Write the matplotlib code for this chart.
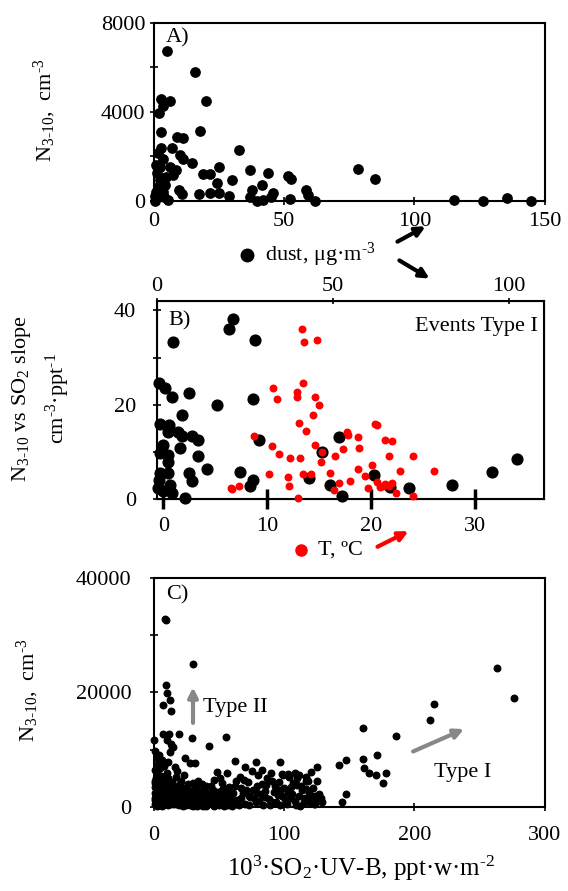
import matplotlib
matplotlib.use('Agg')
import matplotlib.pyplot as plt
from matplotlib.ticker import MultipleLocator

plt.rcParams['font.family'] = ['Liberation Serif', 'DejaVu Serif']
plt.rcParams['mathtext.fontset'] = 'custom'
plt.rcParams['mathtext.rm'] = 'Liberation Serif'
plt.rcParams['mathtext.it'] = 'Liberation Serif:italic'
plt.rcParams['font.size'] = 16

# Panel A: N3-10 vs dust
dust_a = [5.2, 15.7, 2.7, 6.1, 19.8, 3.3, 2.0, 2.7, 17.6, 8.7, 11.3, 32.7, 2.6, 7.0, 1.4,
          10.0, 11.0, 3.6, 14.8, 0.8, 6.1, 25.1, 8.4, 36.8, 78.4, 84.8, 43.8, 51.5, 52.8,
          18.7, 21.5, 7.4, 4.6, 24.4, 29.8, 9.7, 10.6, 17.4, 21.5, 25.1, 28.9, 37.5, 36.8,
          41.3, 45.8, 45.1, 39.4, 41.7, 52.2, 58.3, 59.2, 61.8, 115.1, 126.3, 135.7, 144.9,
          0.3, 0.8, 3.6, 1.7, 4.2, 2.3, 1.0, 5.5, 2.3, 0.5, 1.2, 4.0]
n_a = [6755, 5810, 4570, 4510, 4494, 4270, 3970, 3100, 3146, 2890, 2845, 2292, 2400, 2400, 2144,
       2067, 1874, 1874, 1721, 1618, 1541, 1541, 1393, 1393, 1438, 989, 1272, 1137, 989,
       1213, 1213, 1168, 1092, 824, 943, 494, 300, 300, 374, 344, 238, 494, 194,
       719, 344, 194, 15, 45, 105, 494, 270, 0, 45, 15, 150, 15,
       210, 420, 420, 643, 719, 943, 1243, 45, 1541, 0, 300, 200]

# Panel B: slope vs dust (black, top axis) and vs T (red, bottom axis)
dust_b = [21.6, 20.6, 4.6, 27.9, 0.7, 2.3, 4.4, 9.2, 27.3, 17.2, 7.0, 0.9, 3.5, 3.2, 6.1,
          7.0, 9.9, 11.8, 28.9, 51.7, 1.8, 6.6, 46.9, 0.9, 3.2, 11.8, 3.2, 14.3, 23.6, 0.9,
          3.2, 9.2, 9.9, 27.4, 26.5, 43.1, 61.6, 95.4, 102.3, 84.0, 71.6, 66.4, 49.3, 52.6,
          8.0, 0.4, 3.7, 4.2, 1.8, 0.7]
slope_b = [38.2, 36.0, 33.3, 33.7, 24.7, 23.5, 21.6, 22.5, 21.2, 19.9, 17.8, 16.0, 15.7, 14.3, 14.1,
           13.4, 13.3, 12.6, 12.6, 13.1, 11.5, 10.9, 9.9, 9.7, 9.4, 9.2, 7.8, 6.4, 5.8, 5.6,
           5.5, 5.5, 3.8, 4.0, 2.8, 4.4, 5.1, 5.8, 8.5, 3.0, 2.3, 2.6, 3.0, 0.7,
           0.1, 2.3, 3.0, 1.3, 1.6, 4.0]
temp_b = [13.3, 13.5, 14.8, 13.4, 10.6, 10.9, 12.9, 12.9, 14.6, 15.0, 14.4, 13.1, 13.7, 8.7,
          10.5, 11.1, 12.2, 13.2, 14.6, 15.2, 15.3, 16.5, 17.3, 17.7, 17.8, 18.7, 18.8, 18.7,
          20.4, 20.6, 21.3, 22.0, 21.7, 24.0, 20.1, 22.8, 26.0, 16.0, 10.2, 12.0, 13.4, 14.2,
          18.0, 19.4, 20.6, 21.3, 20.8, 16.9, 16.4, 12.1, 7.3, 6.6, 19.7, 22.4, 24.0, 13.0,
          22.0, 21.1, 21.7, 6.5]
slope_t = [36.0, 33.3, 33.8, 24.7, 23.5, 21.2, 22.6, 21.6, 21.6, 19.9, 17.9, 16.2, 14.5, 13.3,
           11.3, 9.6, 8.7, 8.7, 11.5, 7.9, 9.9, 9.1, 10.6, 14.3, 13.5, 13.1, 10.9, 6.4,
           15.9, 15.7, 12.6, 12.2, 9.1, 9.1, 7.2, 6.0, 6.0, 5.6, 5.3, 4.6, 5.3, 5.3,
           3.8, 4.9, 3.5, 3.1, 2.6, 3.3, 1.9, 2.8, 2.8, 2.1, 2.3, 1.3, 0.7, 0.1,
           3.3, 2.8, 2.8, 2.3]

# Panel C: N3-10 vs 10^3 SO2 UV-B
so2uv_c = [8.4, 9.4, 29.7, 9.2, 9.7, 7.1, 12.3, 13.0, 0, 7.1, 11.7, 19.4, 10.2, 28.9, 14.8,
           42.4, 55.3, 263.0, 276.5, 214.9, 212.3, 160.2, 185.5, 170.9, 160.2, 147.1, 142.0,
           161.2, 165.0, 170.4, 177.8, 175.5, 125.3, 120.5, 147.3, 144.0, 128.2, 123.6, 119.0,
           78.3, 96.7, 98.0, 103.1, 109.5, 116.7, 27.6, 31.5, 23.8, 55.8, 48.1,
           1, 2, 3, 4, 5, 6, 8, 10, 12, 14, 13, 11, 9, 7, 3, 1, 2, 4, 6, 8, 10, 12, 14, 1, 3,
           5, 7, 9, 11, 13, 15, 2, 4, 6, 15, 17, 16, 18, 19,
           20, 22, 24, 26, 28, 30, 32, 34, 36, 38, 40, 42, 44, 46, 48, 50, 52, 54, 56, 58, 60,
           21, 23, 25, 27, 29, 31, 33, 35, 37, 39, 41, 43, 45, 47, 49, 51, 53, 55, 57, 59,
           18, 19, 16, 17, 25, 33, 41, 49, 57,
           62, 64, 66, 68, 70, 72, 74, 76, 78, 80, 82, 84, 86, 88, 90, 92, 94, 96, 98, 100,
           102, 104, 106, 108, 110, 112, 114, 116, 118, 120, 122, 124, 126, 65, 71, 77, 83,
           89, 95, 101, 107, 113, 119, 69, 87, 99, 75, 85, 93,
           0.5, 0.5, 0.5, 0.5, 0.5, 0.5, 1.5, 1.5, 1.5, 1.5, 2.5, 2.5, 2.5, 2.5, 3.5, 3.5, 3.5,
           3.5, 4.5, 4.5, 4.5, 5.5, 5.5, 5.5, 5.5, 6.5, 6.5, 6.5, 7.5, 7.5, 7.5, 8.5, 8.5, 9.5,
           9.5, 9.5, 10.5, 10.5, 11.5, 12.5, 12.5, 13.5, 14.5, 14.5,
           16, 18, 20, 22, 24, 26, 28, 30, 32, 34, 36, 38, 40, 42, 44, 46, 48, 50, 52, 54, 56,
           58, 17, 19, 21, 23, 25, 27, 29, 31, 33, 35, 37, 39, 41, 43, 45, 47, 49, 51, 53, 55,
           57, 59, 22, 30, 38, 46, 54, 26, 34, 44, 52, 60,
           61, 63, 67, 73, 79, 81, 85, 91, 97, 103, 105, 109, 111, 115, 117, 121, 123, 127, 129,
           67, 73, 79, 91, 97, 105, 111, 117, 125, 63, 70, 83, 62, 108]
n_c = [32810, 32640, 24990, 21390, 19880, 17740, 18610, 16750, 11770, 12690, 12690, 12690, 11650,
       12050, 10490, 10660, 12230, 24290, 19010, 18030, 15250, 13790, 12400, 9040, 8350, 8170,
       7300, 6730, 5860, 5560, 5860, 4230, 7010, 6030, 2210, 820, 1620, 520, 1790,
       7880, 7880, 5740, 5740, 4990, 4520, 7700, 7700, 8470, 5960, 6140,
       9800, 8600, 7500, 9000, 6800, 8200, 7200, 6000, 9600, 10400, 11000, 7900, 5200, 4800,
       5600, 4200, 3000, 2200, 3600, 2600, 1800, 3000, 4400, 1200, 600, 1500, 300, 900, 400,
       1300, 2000, 200, 800, 100, 600, 5200, 7000, 6200, 3800,
       2400, 1200, 3300, 600, 1900, 4200, 900, 2700, 300, 1500, 3600, 700, 2200, 4800, 1100,
       400, 2900, 1700, 800, 3500, 200, 4600, 5600, 300, 2800, 1000, 3100, 200, 1800, 4000,
       600, 2500, 1300, 3000, 300, 1900, 5000, 900, 2400, 400, 1300, 900, 1700, 3200, 500,
       1500, 1100, 900, 2700, 2000,
       3600, 1200, 5200, 2400, 600, 4300, 1800, 3000, 900, 5600, 2200, 400, 3800, 1400, 6000,
       2700, 800, 4400, 1900, 3300, 500, 5200, 2300, 1100, 3900, 200, 2900, 1500, 4600, 700,
       3400, 2000, 1200, 300, 2900, 1500, 4000, 300, 2100, 1400, 4200, 3600, 2600, 4800, 5000,
       5600, 6200, 2800, 3600,
       500, 1500, 2500, 3500, 4500, 6500, 700, 1900, 3300, 5100, 1100, 2600, 4000, 6100, 300,
       1700, 3100, 4700, 900, 2500, 3900, 600, 2000, 3200, 5400, 1300, 2800, 4300, 700, 2100,
       3400, 1100, 4000, 500, 2300, 3200, 1400, 5000, 2600, 600, 1800, 3600, 1000, 2800,
       1400, 2800, 600, 3400, 1000, 2200, 300, 1500, 2800, 700, 1900, 3000, 200, 1600, 900,
       2500, 500, 1400, 700, 3300, 1500, 500, 2300, 400, 1600, 800, 2600, 1300, 400, 2000,
       3800, 500, 1200, 2200, 400, 1800, 600, 1500, 800, 2100, 300, 1100, 2800, 600, 100,
       100, 100, 100, 100, 4000, 4600, 3700, 4200, 1200,
       2500, 600, 1500, 300, 2500, 1100, 1800, 900, 300, 2600, 1600, 400, 2000, 800, 3200,
       1700, 500, 2300, 900, 3400, 2000, 3600, 4500, 2900, 3500, 5500, 5200, 4500, 4500,
       7000, 6500, 8000, 6000]

fig = plt.figure(figsize=(5.68, 8.91), dpi=100)

def style(ax):
    for s in ax.spines.values():
        s.set_linewidth(1.5)
    ax.tick_params(which='both', direction='inout', width=1.2)
    ax.tick_params(which='major', length=6)
    ax.tick_params(which='minor', length=6)

# ---- A
axA = fig.add_axes([0.271, 0.7744, 0.688, 0.2])
axA.scatter(dust_a, n_a, s=45, color='black', clip_on=False, zorder=3)
axA.set_xlim(0, 150)
axA.set_ylim(0, 8000)
axA.set_xticks([0, 50, 100, 150])
axA.set_yticks([0, 4000, 8000])
axA.yaxis.set_minor_locator(MultipleLocator(2000))
style(axA)
axA.tick_params(axis='x', pad=5)
axA.tick_params(axis='y', pad=3)
axA.text(0.03, 0.97, 'A)', transform=axA.transAxes, ha='left', va='top')

# ---- B
axB = fig.add_axes([0.2764, 0.440, 0.681, 0.2222])
axB.scatter(temp_b, slope_t, s=22, color='red', clip_on=False, zorder=3)
axB.set_xlim(-0.6, 36.6)
axB.set_ylim(0, 42)
axB.set_xticks([0, 10, 20, 30])
axB.set_yticks([0, 20, 40])
axB.yaxis.set_minor_locator(MultipleLocator(10))
style(axB)
axB.tick_params(axis='x', which='major', length=14, width=2.5, pad=6)
axB.tick_params(axis='y', pad=12)
axBt = axB.twiny()
axBt.scatter(dust_b, slope_b, s=60, color='black', clip_on=False, zorder=2)
axBt.set_xlim(0, 110)
axBt.set_xticks([0, 50, 100])
axBt.tick_params(axis='x', direction='inout', length=5, width=1.2, pad=1)
axB.set_zorder(axBt.get_zorder() + 1)
axB.patch.set_visible(False)
axB.text(0.03, 0.95, 'B)', transform=axB.transAxes, ha='left', va='top')
axB.text(0.985, 0.92, 'Events Type I', transform=axB.transAxes, ha='right', va='top')

# ---- C
axC = fig.add_axes([0.271, 0.0943, 0.688, 0.257])
axC.scatter(so2uv_c, n_c, s=22, color='black', clip_on=False, zorder=3)
axC.set_xlim(0, 300)
axC.set_ylim(0, 40000)
axC.set_xticks([0, 100, 200, 300])
axC.set_yticks([0, 20000, 40000])
axC.yaxis.set_minor_locator(MultipleLocator(10000))
style(axC)
axC.tick_params(axis='x', pad=11)
axC.tick_params(axis='y', pad=13)
axC.text(0.03, 0.97, 'C)', transform=axC.transAxes, ha='left', va='top')
axC.annotate('', xy=(30, 21400), xytext=(30, 14200),
             arrowprops=dict(arrowstyle='-|>', color='#888888', lw=3, mutation_scale=14))
axC.text(38, 17300, 'Type II', ha='left', va='center')
axC.annotate('', xy=(240, 13800), xytext=(197, 9500),
             arrowprops=dict(arrowstyle='-|>', color='#888888', lw=3, mutation_scale=14))
axC.text(215, 6100, 'Type I', ha='left', va='center')

# axis labels
fig.text(45 / 568, 1 - 110 / 891, r'N$_{\mathregular{3‐10}}$,  cm$^{‐3}$', rotation=90,
         ha='center', va='center')
fig.text(22 / 568, 1 - 399 / 891, r'N$_{\mathregular{3‐10}}$ vs SO$_2$ slope', rotation=90,
         ha='center', va='center')
fig.text(58 / 568, 1 - 399 / 891, r'cm$^{‐3}$·ppt$^{‐1}$', rotation=90,
         ha='center', va='center')
fig.text(28 / 568, 1 - 690 / 891, r'N$_{\mathregular{3‐10}}$,  cm$^{‐3}$', rotation=90,
         ha='center', va='center')
fig.text(361 / 568, 1 - 868 / 891, r'10$^3$·SO$_2$·UV-B, ppt·w·m$^{‐2}$', ha='center',
         va='center', fontsize=18)

# dust legend + arrows
fig.text(265 / 568, 1 - 255 / 891, r'dust, μg·m$^{‐3}$', ha='left', va='center')
fig.add_artist(plt.Line2D([247 / 568], [1 - 255 / 891], marker='o', markersize=9,
                          color='black', transform=fig.transFigure))
fig.add_artist(plt.Line2D([301 / 568], [1 - 550 / 891], marker='o', markersize=8,
                          color='red', transform=fig.transFigure))
fig.text(318 / 568, 1 - 550 / 891, 'T, ºC', ha='left', va='center')

fig.add_artist(matplotlib.patches.FancyArrowPatch((395 / 568, 1 - 243 / 891), (428 / 568, 1 - 225 / 891),
               transform=fig.transFigure, arrowstyle='-|>', mutation_scale=14, lw=3, color='black'))
fig.add_artist(matplotlib.patches.FancyArrowPatch((397 / 568, 1 - 259 / 891), (432 / 568, 1 - 280 / 891),
               transform=fig.transFigure, arrowstyle='-|>', mutation_scale=14, lw=3, color='black'))
fig.add_artist(matplotlib.patches.FancyArrowPatch((375 / 568, 1 - 548 / 891), (411 / 568, 1 - 530 / 891),
               transform=fig.transFigure, arrowstyle='-|>', mutation_scale=14, lw=3, color='red'))

fig.savefig('out.png', dpi=100)
